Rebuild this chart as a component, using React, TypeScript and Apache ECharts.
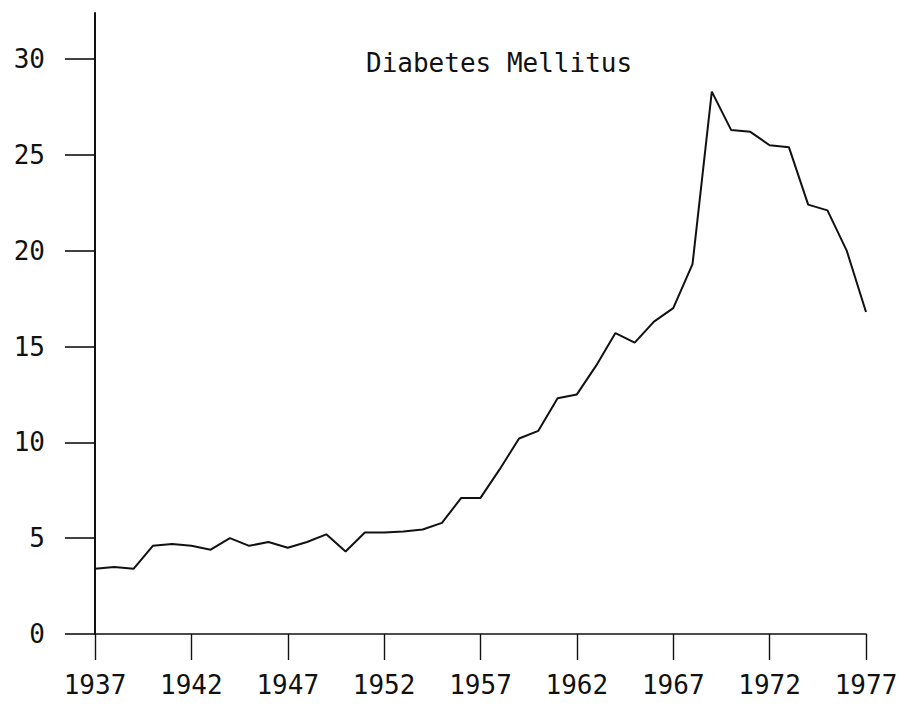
import React, { useEffect, useRef } from "react";
import * as echarts from "echarts";

const years: number[] = [
  1937, 1938, 1939, 1940, 1941, 1942, 1943, 1944, 1945, 1946,
  1947, 1948, 1949, 1950, 1951, 1952, 1953, 1954, 1955, 1956,
  1957, 1958, 1959, 1960, 1961, 1962, 1963, 1964, 1965, 1966,
  1967, 1968, 1969, 1970, 1971, 1972, 1973, 1974, 1975, 1976, 1977,
];
const rates: number[] = [
  3.4, 3.5, 3.4, 4.6, 4.7, 4.6, 4.4, 5.0, 4.6, 4.8,
  4.5, 4.8, 5.2, 4.3, 5.3, 5.3, 5.35, 5.45, 5.8, 7.1,
  7.1, 8.6, 10.2, 10.6, 12.3, 12.5, 14.0, 15.7, 15.2, 16.3,
  17.0, 19.3, 28.3, 26.3, 26.2, 25.5, 25.4, 22.4, 22.1, 20.0, 16.8,
];
const xTicks: number[] = [1937, 1942, 1947, 1952, 1957, 1962, 1967, 1972, 1977];
const yTicks: number[] = [0, 5, 10, 15, 20, 25, 30];
const titleText = "Diabetes Mellitus";

const FONT = "DejaVu Sans Mono";
const INK = "#111";

export default function App() {
  const ref = useRef<HTMLDivElement>(null);
  useEffect(() => {
    if (!ref.current) return;
    const chart = echarts.init(ref.current, null, { renderer: "svg" });
    chart.setOption({
      animation: false,
      backgroundColor: "#fff",
      title: {
        text: titleText,
        left: 366,
        top: 50,
        padding: 0,
        textStyle: { fontFamily: FONT, fontSize: 26, fontWeight: "normal", color: INK },
      },
      grid: { left: 95, right: 35, top: 13, bottom: 77, containLabel: false },
      xAxis: {
        type: "value",
        min: 1937,
        max: 1977,
        splitLine: { show: false },
        axisLine: { show: true, lineStyle: { color: INK, width: 1.6 } },
        axisTick: { show: true, length: 26, customValues: xTicks, lineStyle: { color: INK, width: 1.4 } },
        axisLabel: {
          customValues: xTicks,
          margin: 38,
          fontFamily: FONT,
          fontSize: 26,
          color: INK,
          formatter: (v: number) => String(v),
        },
      },
      yAxis: {
        type: "value",
        min: 0,
        max: 32.4,
        splitLine: { show: false },
        axisLine: { show: true, lineStyle: { color: INK, width: 2 } },
        axisTick: { show: true, length: 30, customValues: yTicks, lineStyle: { color: INK, width: 1.6 } },
        axisLabel: {
          customValues: yTicks,
          margin: 50,
          fontFamily: FONT,
          fontSize: 26,
          color: INK,
        },
      },
      series: [
        {
          type: "line",
          data: years.map((y, i) => [y, rates[i]]),
          symbol: "none",
          lineStyle: { color: INK, width: 2 },
        },
      ],
    });
    return () => chart.dispose();
  }, []);
  return (
    <div
      ref={ref}
      style={{ position: "absolute", left: 0, top: 0, width: 901, height: 711, background: "#fff" }}
    />
  );
}
